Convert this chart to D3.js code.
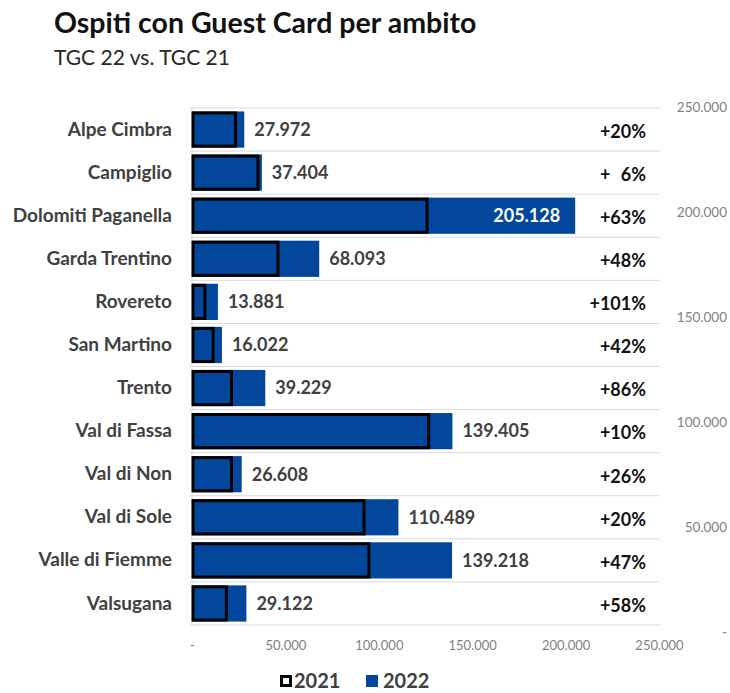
<!DOCTYPE html>
<html>
<head>
<meta charset="utf-8">
<script src="https://cdn.jsdelivr.net/npm/d3@7"></script>
<style>
  body { margin: 0; background: #fff; }
  svg text { font-family: Lato, "Open Sans", sans-serif; }
</style>
</head>
<body>
<div id="chart"></div>
<script>
// ambiti turistici (top to bottom)
var ambiti = ["Alpe Cimbra", "Campiglio", "Dolomiti Paganella", "Garda Trentino", "Rovereto",
  "San Martino", "Trento", "Val di Fassa", "Val di Non", "Val di Sole", "Valle di Fiemme", "Valsugana"];
// ospiti con guest card
var ospiti2022 = [27972, 37404, 205128, 68093, 13881, 16022, 39229, 139405, 26608, 110489, 139218, 29122];
var ospiti2021 = [23300, 35300, 125850, 46000, 6900, 11300, 21100, 126700, 21100, 92100, 94700, 18400];
var variazioni = ["+20%", "+ 6%", "+63%", "+48%", "+101%", "+42%", "+86%", "+10%", "+26%", "+20%", "+47%", "+58%"];
var xTicks = [0, 50000, 100000, 150000, 200000, 250000];

var W = 730, H = 693;
var blue = "#02479b";

var svg = d3.select("#chart").append("svg")
  .attr("width", W)
  .attr("height", H);

var it = d3.formatLocale({decimal: ",", thousands: ".", grouping: [3], currency: ["", "€"]});
var fmt = function(v) { return v === 0 ? "-" : it.format(",")(v); };

var x = d3.scaleLinear().domain([0, 250000]).range([192, 659]);
var y = d3.scaleBand().domain(ambiti).range([108, 625]).paddingInner(0.16).paddingOuter(0.08);
var yRight = d3.scaleLinear().domain([0, 250000]).range([632, 107]);

// title
svg.append("text")
  .attr("x", 54).attr("y", 33)
  .style("font-size", "28.5px").style("font-weight", "bold").style("fill", "#111")
  .text("Ospiti con Guest Card per ambito");
svg.append("text")
  .attr("x", 54).attr("y", 65)
  .style("font-size", "21px").style("fill", "#262626")
  .text("TGC 22 vs. TGC 21");

// row separators
var bounds = ambiti.map(function(d) { return y(d) - y.step() * y.paddingInner() / 2; });
bounds.push(625);
svg.append("g").selectAll("line")
  .data(bounds)
  .enter().append("line")
    .attr("x1", 190).attr("x2", 660)
    .attr("y1", function(d) { return d; })
    .attr("y2", function(d) { return d; })
    .style("stroke", "#d9d9d9").style("stroke-width", 1);
svg.append("line")
  .attr("x1", x(0)).attr("x2", x(0)).attr("y1", 108).attr("y2", 625)
  .style("stroke", "#d9d9d9");

// 2022 bars
svg.append("g").selectAll("rect")
  .data(ambiti)
  .enter().append("rect")
    .attr("x", x(0))
    .attr("y", function(d) { return y(d); })
    .attr("width", function(d, i) { return x(ospiti2022[i]) - x(0); })
    .attr("height", y.bandwidth())
    .style("fill", blue);

// 2021 bars (outlined)
svg.append("g").selectAll("rect")
  .data(ambiti)
  .enter().append("rect")
    .attr("x", x(0) + 1)
    .attr("y", function(d) { return y(d) + 1.5; })
    .attr("width", function(d, i) { return x(ospiti2021[i]) - x(0) - 1; })
    .attr("height", y.bandwidth() - 3)
    .style("fill", blue)
    .style("stroke", "#000")
    .style("stroke-width", 3);

// value labels
svg.append("g").selectAll("text")
  .data(ambiti)
  .enter().append("text")
    .attr("x", function(d, i) { return ospiti2022[i] > 180000 ? x(ospiti2022[i]) - 15 : x(ospiti2022[i]) + 10; })
    .attr("y", function(d) { return y(d) + y.bandwidth() / 2; })
    .attr("dy", "0.35em")
    .attr("text-anchor", function(d, i) { return ospiti2022[i] > 180000 ? "end" : "start"; })
    .style("font-size", "18px").style("font-weight", "bold")
    .style("fill", function(d, i) { return ospiti2022[i] > 180000 ? "#fff" : "#404040"; })
    .text(function(d, i) { return fmt(ospiti2022[i]); });

// variation labels
svg.append("g").selectAll("text")
  .data(ambiti)
  .enter().append("text")
    .attr("x", 646)
    .attr("y", function(d) { return y(d) + y.bandwidth() / 2 + 2; })
    .attr("dy", "0.35em")
    .attr("text-anchor", "end")
    .style("font-size", "18px").style("font-weight", "bold").style("fill", "#111")
    .text(function(d, i) { return variazioni[i].replace(" ", "\u2007"); });

// category axis
var gy = svg.append("g")
  .attr("transform", "translate(180,0)")
  .call(d3.axisLeft(y).tickSize(0).tickPadding(8));
gy.select(".domain").remove();
gy.selectAll("text")
  .style("font-size", "19px").style("font-weight", "bold").style("fill", "#404040")
  .style("font-family", "Lato, sans-serif");

// bottom axis
var gx = svg.append("g")
  .attr("transform", "translate(0,638)")
  .call(d3.axisBottom(x).tickValues(xTicks).tickSize(0).tickFormat(fmt));
gx.select(".domain").remove();
gx.selectAll("text")
  .style("font-size", "13px").style("fill", "#7f7f7f")
  .style("font-family", "Lato, sans-serif");

// secondary axis on the right
var gr = svg.append("g")
  .attr("transform", "translate(727,0)")
  .call(d3.axisRight(yRight).tickValues(xTicks).tickSize(0).tickPadding(0).tickFormat(fmt));
gr.select(".domain").remove();
gr.selectAll("text")
  .attr("text-anchor", "end")
  .style("font-size", "13.5px").style("fill", "#7f7f7f")
  .style("font-family", "Lato, sans-serif");

// legend
var legend = svg.append("g").attr("transform", "translate(280,675)");
legend.append("rect")
  .attr("x", 1.5).attr("y", 1.5).attr("width", 9).attr("height", 9)
  .style("fill", "#fff").style("stroke", "#000").style("stroke-width", 3);
legend.append("text")
  .attr("x", 14).attr("y", 6).attr("dy", "0.35em")
  .style("font-size", "20px").style("font-weight", "bold").style("fill", "#404040")
  .text("2021");
legend.append("rect")
  .attr("x", 86).attr("y", 0).attr("width", 12).attr("height", 12)
  .style("fill", blue);
legend.append("text")
  .attr("x", 103).attr("y", 6).attr("dy", "0.35em")
  .style("font-size", "20px").style("font-weight", "bold").style("fill", "#404040")
  .text("2022");
</script>
</body>
</html>
